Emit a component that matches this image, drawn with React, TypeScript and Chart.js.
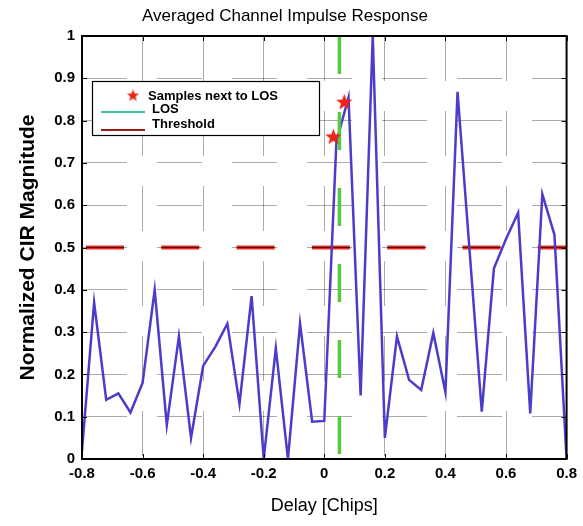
import React, { useEffect, useRef } from "react";
import { Chart, registerables } from "chart.js";

Chart.register(...registerables);

// ---- data ----
const delays = [
  -0.8, -0.76, -0.72, -0.68, -0.64, -0.6, -0.56, -0.52, -0.48, -0.44, -0.4,
  -0.36, -0.32, -0.28, -0.24, -0.2, -0.16, -0.12, -0.08, -0.04, 0, 0.04, 0.08,
  0.12, 0.16, 0.2, 0.24, 0.28, 0.32, 0.36, 0.4, 0.44, 0.48, 0.52, 0.56, 0.6,
  0.64, 0.68, 0.72, 0.76, 0.8,
];
const cirMagnitude = [
  0.02, 0.37, 0.14, 0.155, 0.11, 0.18, 0.4, 0.08, 0.29, 0.05, 0.22, 0.265,
  0.32, 0.13, 0.385, 0.0, 0.262, 0.0, 0.32, 0.088, 0.09, 0.75, 0.855, 0.15,
  1.0, 0.05, 0.29, 0.187, 0.163, 0.298, 0.158, 0.868, 0.49, 0.112, 0.45, 0.52,
  0.582, 0.108, 0.626, 0.53, 0.0,
];
const losSampleDelays = [0.03, 0.066];
const losSampleValues = [0.763, 0.845];
const losDelay = 0.05;
const losRange = [1, 0];
const thresholdValue = 0.5;
const thresholdRange = [-0.8, 0.8];

const xTickValues = [-0.8, -0.6, -0.4, -0.2, 0, 0.2, 0.4, 0.6, 0.8];
const xTickLabels = ["-0.8", "-0.6", "-0.4", "-0.2", "0", "0.2", "0.4", "0.6", "0.8"];
const yTickValues = [0, 0.1, 0.2, 0.3, 0.4, 0.5, 0.6, 0.7, 0.8, 0.9, 1];
const yTickLabels = ["0", "0.1", "0.2", "0.3", "0.4", "0.5", "0.6", "0.7", "0.8", "0.9", "1"];

const titleText = "Averaged Channel Impulse Response";
const xTitle = "Delay [Chips]";
const yTitle = "Normalized CIR Magnitude";
const legendLabels = ["Samples next to LOS", "LOS", "Threshold"];

// ---- styles ----
const FONT = "'Liberation Sans', Arial, Helvetica, sans-serif";
const CIR_COLOR = "#4b3ccc";
const LOS_COLOR = "#58c83c";
const THR_COLOR = "#e22a20";
const STAR_COLOR = "#ec2418";

function makeStar(size: number, color: string): HTMLCanvasElement {
  const c = document.createElement("canvas");
  c.width = size;
  c.height = size;
  const g = c.getContext("2d")!;
  const cx = size / 2;
  const cy = size / 2 + size * 0.05;
  const R = size / 2;
  const r = R * 0.42;
  g.beginPath();
  for (let i = 0; i < 10; i++) {
    const ang = -Math.PI / 2 + (i * Math.PI) / 5;
    const rad = i % 2 === 0 ? R : r;
    const px = cx + rad * Math.cos(ang);
    const py = cy + rad * Math.sin(ang);
    if (i === 0) g.moveTo(px, py);
    else g.lineTo(px, py);
  }
  g.closePath();
  g.fillStyle = color;
  g.fill();
  return c;
}

const framePlugin = {
  id: "matlabFrame",
  afterDatasetsDraw(chart: any) {
    const { ctx, chartArea: a, scales } = chart;
    ctx.save();
    ctx.strokeStyle = "#000";
    ctx.lineWidth = 1;
    ctx.beginPath();
    xTickValues.forEach((v) => {
      const px = Math.round(scales.x.getPixelForValue(v)) + 0.5;
      ctx.moveTo(px, a.bottom);
      ctx.lineTo(px, a.bottom - 5);
      ctx.moveTo(px, a.top);
      ctx.lineTo(px, a.top + 5);
    });
    yTickValues.forEach((v) => {
      const py = Math.round(scales.y.getPixelForValue(v)) + 0.5;
      ctx.moveTo(a.left, py);
      ctx.lineTo(a.left + 5, py);
      ctx.moveTo(a.right, py);
      ctx.lineTo(a.right - 5, py);
    });
    ctx.stroke();
    ctx.lineWidth = 2;
    ctx.strokeRect(a.left, a.top, a.right - a.left, a.bottom - a.top);
    ctx.restore();
  },
  afterDraw(chart: any) {
    const { ctx, chartArea: a } = chart;
    const bx = a.left + 10;
    const by = a.top + 45;
    const bw = 227;
    const bh = 54;
    ctx.save();
    ctx.fillStyle = "#fff";
    ctx.fillRect(bx, by, bw, bh);
    ctx.strokeStyle = "#000";
    ctx.lineWidth = 1.2;
    ctx.strokeRect(bx + 0.5, by + 0.5, bw, bh);
    // star
    const star = makeStar(13, STAR_COLOR);
    ctx.drawImage(star, bx + 41 - 6.5, by + 14 - 6.5);
    // LOS line
    ctx.strokeStyle = "#3dc48a";
    ctx.lineWidth = 2;
    ctx.beginPath();
    ctx.moveTo(bx + 9, by + 31);
    ctx.lineTo(bx + 53, by + 31);
    ctx.stroke();
    // threshold line
    ctx.strokeStyle = "#9b1c18";
    ctx.beginPath();
    ctx.moveTo(bx + 9, by + 49);
    ctx.lineTo(bx + 53, by + 49);
    ctx.stroke();
    ctx.fillStyle = "#000";
    ctx.font = `bold 13px ${FONT}`;
    ctx.textBaseline = "middle";
    ctx.textAlign = "left";
    ctx.fillText(legendLabels[0], bx + 56, by + 15);
    ctx.fillText(legendLabels[1], bx + 60, by + 28);
    ctx.fillText(legendLabels[2], bx + 60, by + 43);
    ctx.restore();
  },
};

export default function App() {
  const canvasRef = useRef<HTMLCanvasElement | null>(null);

  useEffect(() => {
    if (!canvasRef.current) return;
    const star = makeStar(17, STAR_COLOR);
    const cirData = delays.map((d, i) => ({ x: d, y: cirMagnitude[i] }));
    const losData = losRange.map((v) => ({ x: losDelay, y: v }));
    const thrData = thresholdRange.map((d) => ({ x: d, y: thresholdValue }));
    const sampleData = losSampleDelays.map((d, i) => ({ x: d, y: losSampleValues[i] }));

    const gridColor = "rgba(0,0,0,0.33)";

    const chart = new Chart(canvasRef.current, {
      type: "line",
      data: {
        datasets: [
          {
            label: legendLabels[0],
            data: sampleData,
            showLine: false,
            pointStyle: star as any,
            pointRadius: 8,
            order: 0,
          },
          {
            label: legendLabels[1],
            data: losData,
            borderColor: LOS_COLOR,
            borderWidth: 3.5,
            borderDash: [38, 38],
            pointRadius: 0,
            order: 1,
          },
          {
            label: "CIR",
            data: cirData,
            borderColor: CIR_COLOR,
            borderWidth: 2.5,
            pointRadius: 0,
            tension: 0,
            order: 2,
          },
          {
            label: legendLabels[2],
            data: thrData,
            borderColor: THR_COLOR,
            borderWidth: 4,
            borderDash: [38, 37.3],
            borderDashOffset: 71.3,
            pointRadius: 0,
            order: 3,
          },
          {
            label: "thr-core",
            data: thrData,
            borderColor: "rgba(40,0,0,0.75)",
            borderWidth: 1.2,
            borderDash: [38, 37.3],
            borderDashOffset: 71.3,
            pointRadius: 0,
            order: 2.5,
          },
        ],
      },
      options: {
        responsive: false,
        animation: false,
        layout: { padding: { left: 0, right: 13, top: 0, bottom: 0 } },
        plugins: {
          legend: { display: false },
          tooltip: { enabled: false },
          title: {
            display: true,
            text: titleText,
            color: "#000",
            font: { family: FONT, size: 17, weight: "normal" },
            padding: { top: 6, bottom: 9.6 },
          },
        },
        scales: {
          x: {
            type: "linear",
            min: -0.8,
            max: 0.8,
            afterBuildTicks: (s: any) => {
              s.ticks = xTickValues.map((v) => ({ value: v }));
            },
            afterFit: (s: any) => {
              s.height = 67;
            },
            ticks: {
              color: "#000",
              font: { family: FONT, size: 15, weight: "bold" },
              padding: 6,
              maxRotation: 0,
              autoSkip: false,
              callback: (v: any) => {
                const i = xTickValues.findIndex((t) => Math.abs(t - Number(v)) < 1e-6);
                return i >= 0 ? xTickLabels[i] : "";
              },
            },
            grid: {
              color: gridColor,
              lineWidth: 1,
              drawTicks: false,
              borderDash: [45, 30],
            } as any,
            border: { display: false, dash: [45, 30] },
            title: {
              display: true,
              text: xTitle,
              color: "#000",
              font: { family: FONT, size: 18, weight: "normal" },
              padding: { top: 9, bottom: 9 },
            },
          },
          y: {
            type: "linear",
            min: 0,
            max: 1,
            afterBuildTicks: (s: any) => {
              s.ticks = yTickValues.map((v) => ({ value: v }));
            },
            afterFit: (s: any) => {
              s.width = 82;
            },
            ticks: {
              color: "#000",
              font: { family: FONT, size: 15, weight: "bold" },
              padding: 7,
              autoSkip: false,
              callback: (v: any) => {
                const i = yTickValues.findIndex((t) => Math.abs(t - Number(v)) < 1e-6);
                return i >= 0 ? yTickLabels[i] : "";
              },
            },
            grid: {
              color: gridColor,
              lineWidth: 1,
              drawTicks: false,
              borderDash: [45, 30],
            } as any,
            border: { display: false, dash: [45, 30] },
            title: {
              display: true,
              text: yTitle,
              color: "#000",
              font: { family: FONT, size: 21, weight: "bold" },
              padding: { top: 15.4, bottom: 15.4 },
            },
          },
        },
      },
      plugins: [framePlugin],
    } as any);

    return () => chart.destroy();
  }, []);

  return (
    <div style={{ position: "absolute", left: 0, top: 0, width: 583, height: 526, background: "#fff" }}>
      <canvas ref={canvasRef} width={583} height={526} style={{ display: "block" }} />
    </div>
  );
}
